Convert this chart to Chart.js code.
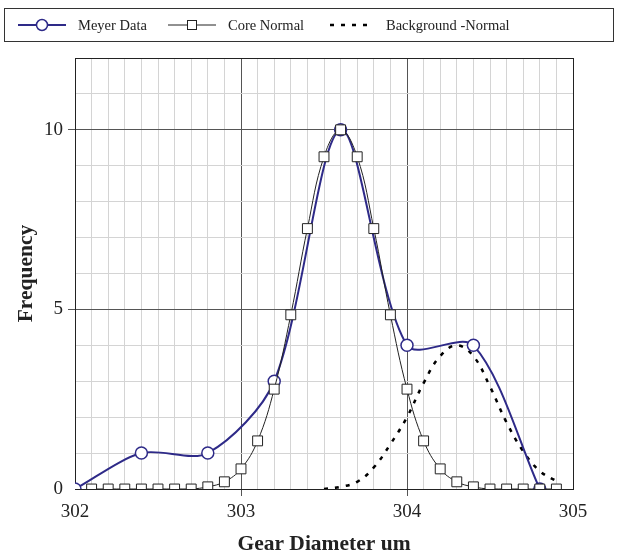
<!DOCTYPE html>
<html>
<head>
<meta charset="utf-8">
<style>
  body { margin: 0; background: #fff; }
  #wrap { position: relative; width: 620px; height: 557px; }
  #legend {
    position: absolute; left: 4px; top: 8px; width: 608px; height: 32px;
    border: 1px solid #333; font-family: "Liberation Serif", serif; font-size: 14.5px; color: #222;
  }
  #legend svg { position: absolute; top: 0; }
  #legend span { position: absolute; top: 0; height: 32px; line-height: 33px; white-space: nowrap; }
</style>
</head>
<body>
<div id="wrap">
  <canvas id="gear" width="620" height="557"></canvas>
  <div id="legend">
    <svg style="left:13px" width="50" height="32"><line x1="0" y1="16" x2="48" y2="16" stroke="#2e2a88" stroke-width="2"/><circle cx="24" cy="16" r="5.5" fill="#fff" stroke="#2e2a88" stroke-width="1.5"/></svg>
    <span style="left:73px">Meyer Data</span>
    <svg style="left:163px" width="50" height="32"><line x1="0" y1="16" x2="48" y2="16" stroke="#222" stroke-width="1"/><rect x="19.5" y="11.5" width="9" height="9" fill="#fff" stroke="#222" stroke-width="1"/></svg>
    <span style="left:223px">Core Normal</span>
    <svg style="left:325px" width="50" height="32"><line x1="0" y1="16" x2="44" y2="16" stroke="#000" stroke-width="2.5" stroke-dasharray="4,7"/></svg>
    <span style="left:381px">Background -Normal</span>
  </div>
</div>
<script src="https://cdn.jsdelivr.net/npm/chart.js"></script>
<script>
var meyerX = [302.0, 302.4, 302.8, 303.2, 303.6, 304.0, 304.4, 304.8];
var meyerY = [0, 1, 1, 3, 10, 4, 4, 0];

var coreX = [302.1, 302.2, 302.3, 302.4, 302.5, 302.6, 302.7, 302.8, 302.9, 303.0,
             303.1, 303.2, 303.3, 303.4, 303.5, 303.6, 303.7, 303.8, 303.9, 304.0,
             304.1, 304.2, 304.3, 304.4, 304.5, 304.6, 304.7, 304.8, 304.9];
var coreY = [0, 0, 0, 0, 0, 0, 0, 0.06, 0.2, 0.56,
             1.34, 2.78, 4.85, 7.25, 9.25, 10, 9.25, 7.25, 4.85, 2.78,
             1.34, 0.56, 0.2, 0.06, 0, 0, 0, 0, 0];

var bgX = [303.5, 303.6, 303.7, 303.8, 303.9, 304.0, 304.1, 304.2, 304.3, 304.4, 304.5, 304.6, 304.7, 304.8, 304.9];
var bgY = [0, 0.06, 0.2, 0.6, 1.25, 2.0, 2.95, 3.7, 4.0, 3.7, 2.85, 1.85, 1.05, 0.5, 0.22];

var xTicks = [302, 303, 304, 305];
var yTicks = [0, 5, 10];

function pts(xs, ys) {
  return xs.map(function (x, i) { return { x: x, y: ys[i] }; });
}
function isTick(v, list) {
  return list.some(function (t) { return Math.abs(v - t) < 1e-6; });
}

var serif = "'Liberation Serif', 'Times New Roman', serif";

new Chart(document.getElementById('gear'), {
  type: 'line',
  data: {
    datasets: [{
      label: 'Core Normal',
      data: pts(coreX, coreY),
      borderColor: '#222',
      borderWidth: 1,
      pointStyle: 'rect',
      pointRadius: 7,
      pointBackgroundColor: '#fff',
      pointBorderColor: '#222',
      pointBorderWidth: 1,
      tension: 0.4,
      order: 0
    }, {
      label: 'Meyer Data',
      data: pts(meyerX, meyerY),
      borderColor: '#2e2a88',
      borderWidth: 2,
      pointStyle: 'circle',
      pointRadius: 6,
      pointBackgroundColor: '#fff',
      pointBorderColor: '#2e2a88',
      pointBorderWidth: 1.5,
      tension: 0.3,
      order: 1
    }, {
      label: 'Background -Normal',
      data: pts(bgX, bgY),
      borderColor: '#000',
      borderWidth: 2.5,
      borderDash: [4, 7],
      pointRadius: 0,
      tension: 0.4,
      order: 2
    }]
  },
  options: {
    responsive: false,
    animation: false,
    layout: { padding: { top: 58, right: 47, left: 0, bottom: 0 } },
    plugins: { legend: { display: false }, tooltip: { enabled: false } },
    scales: {
      x: {
        type: 'linear',
        min: 302, max: 305,
        afterFit: function (s) { s.height = 68; },
        ticks: {
          stepSize: 0.1,
          autoSkip: false,
          maxRotation: 0,
          padding: 5,
          color: '#222',
          font: { family: serif, size: 19 },
          callback: function (v) { return isTick(v, xTicks) ? Math.round(v) : ''; }
        },
        grid: {
          tickLength: 7,
          lineWidth: 1,
          color: function (c) {
            var v = c.tick.value;
            if (isTick(v, [302, 305])) return '#222';
            return isTick(v, xTicks) ? '#555' : '#d4d4d4';
          },
          tickColor: function (c) {
            return isTick(c.tick.value, [303, 304]) ? '#555' : 'rgba(0,0,0,0)';
          }
        },
        border: { color: '#222', width: 1 },
        title: {
          display: true,
          text: 'Gear Diameter um',
          color: '#222',
          font: { family: serif, size: 21.5, weight: 'bold' },
          padding: { top: 0, bottom: 0 }
        }
      },
      y: {
        min: 0, max: 12,
        afterFit: function (s) { s.width = 75; },
        ticks: {
          stepSize: 1,
          autoSkip: false,
          padding: 5,
          color: '#222',
          font: { family: serif, size: 19 },
          callback: function (v) { return isTick(v, yTicks) ? v : ''; }
        },
        grid: {
          tickLength: 7,
          lineWidth: 1,
          color: function (c) {
            var v = c.tick.value;
            if (isTick(v, [0, 12])) return '#222';
            return isTick(v, yTicks) ? '#555' : '#d4d4d4';
          },
          tickColor: function (c) {
            return isTick(c.tick.value, [5, 10]) ? '#555' : 'rgba(0,0,0,0)';
          }
        },
        border: { color: '#222', width: 1 },
        title: {
          display: true,
          text: 'Frequency',
          color: '#222',
          font: { family: serif, size: 21.5, weight: 'bold' },
          padding: { top: 14, bottom: 4 }
        }
      }
    }
  }
});
</script>
</body>
</html>
